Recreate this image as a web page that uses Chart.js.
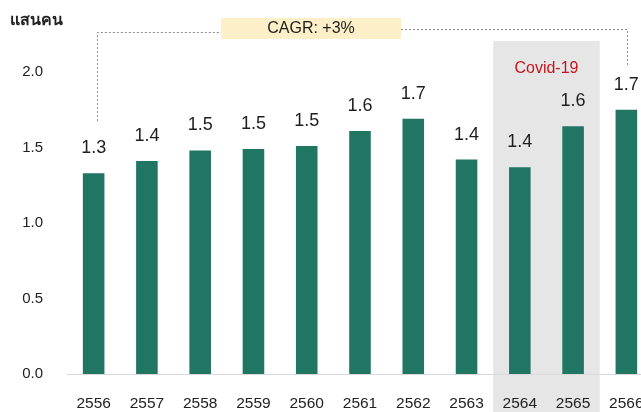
<!DOCTYPE html>
<html>
<head>
<meta charset="utf-8">
<script src="https://cdn.jsdelivr.net/npm/chart.js@4.4.1/dist/chart.umd.min.js"></script>
<style>
  html, body { margin:0; padding:0; background:#fff; overflow:hidden; }
  canvas { display:block; }
</style>
</head>
<body>
<canvas id="chart-visitors" width="641" height="412"></canvas>
<script>
// ข้อมูล (แสนคน)
const years  = ['2556','2557','2558','2559','2560','2561','2562','2563','2564','2565','2566'];
const values = [1.33, 1.41, 1.48, 1.49, 1.51, 1.61, 1.69, 1.42, 1.37, 1.64, 1.75];
const valueLabels = ['1.3','1.4','1.5','1.5','1.5','1.6','1.7','1.4','1.4','1.6','1.7'];
const yTicks = [0, 0.5, 1.0, 1.5, 2.0];
const covidYears = ['2564','2565'];
const unitLabel = 'แสนคน';
const cagrText = 'CAGR: +3%';
const covidText = 'Covid-19';

const FONT = "'Liberation Sans', Arial, Helvetica, sans-serif";
const BAR = '#207563';

// แกน x ยาวเลยขอบขวา แท่งสุดท้ายโดนตัดเหมือนต้นฉบับ
const extendRight = {
  id: 'extendRight',
  afterLayout(chart){
    const x = chart.scales.x;
    x.right = chart.width + 12;
    x.width = x.right - x.left;
    x.configure();
  }
};

// กล่องเทา Covid อยู่ใต้แท่ง
const covidBand = {
  id: 'covidBand',
  beforeDraw(chart){
    const {ctx, scales:{x}} = chart;
    const half = (x.getPixelForValue(1) - x.getPixelForValue(0)) / 2;
    const i0 = years.indexOf(covidYears[0]);
    const i1 = years.indexOf(covidYears[covidYears.length-1]);
    const left = x.getPixelForValue(i0) - half;
    const right = x.getPixelForValue(i1) + half;
    ctx.save();
    ctx.fillStyle = '#e6e6e6';
    ctx.fillRect(left, 41, right - left, chart.height - 41);
    ctx.fillStyle = '#c8141b';
    ctx.font = '16px ' + FONT;
    ctx.textAlign = 'center';
    ctx.textBaseline = 'middle';
    ctx.fillText(covidText, (left + right) / 2, 69);
    ctx.restore();
  }
};

// ตัวเลขบนแท่ง + หัวข้อ + กล่อง CAGR
const overlay = {
  id: 'overlay',
  afterDatasetsDraw(chart){
    const {ctx} = chart;
    const meta = chart.getDatasetMeta(0);
    ctx.save();
    ctx.fillStyle = '#1e1e1e';
    ctx.font = '18px ' + FONT;
    ctx.textAlign = 'center';
    ctx.textBaseline = 'middle';
    meta.data.forEach((bar, i) => {
      ctx.fillText(valueLabels[i], bar.x, bar.y - 25);
    });

    // หน่วย
    ctx.font = 'bold 16px ' + FONT;
    ctx.textAlign = 'left';
    ctx.fillStyle = '#222';
    ctx.fillText(unitLabel, 10, 21);

    // เส้นประ CAGR
    const first = meta.data[0], last = meta.data[meta.data.length-1];
    const boxL = 221, boxR = 401, boxT = 18, boxB = 39;
    ctx.strokeStyle = '#8c8c8c';
    ctx.lineWidth = 1;
    ctx.setLineDash([2, 2]);
    ctx.beginPath();
    ctx.moveTo(Math.round(first.x) + 3.5, first.y - 52);
    ctx.lineTo(Math.round(first.x) + 3.5, 32.5);
    ctx.lineTo(boxL, 32.5);
    ctx.moveTo(boxR, 29.5);
    ctx.lineTo(Math.round(last.x) + 1.5, 29.5);
    ctx.lineTo(Math.round(last.x) + 1.5, last.y - 44);
    ctx.stroke();
    ctx.setLineDash([]);

    ctx.fillStyle = '#fdefc8';
    ctx.fillRect(boxL, boxT, boxR - boxL, boxB - boxT);
    ctx.fillStyle = '#1e1e1e';
    ctx.font = '16px ' + FONT;
    ctx.textAlign = 'center';
    ctx.fillText(cagrText, (boxL + boxR) / 2, 29);
    ctx.restore();
  }
};

new Chart(document.getElementById('chart-visitors'), {
  type: 'bar',
  data: {
    labels: years,
    datasets: [{
      data: values,
      backgroundColor: BAR,
      borderWidth: 0,
      categoryPercentage: 1,
      barPercentage: 0.405
    }]
  },
  options: {
    responsive: false,
    animation: false,
    layout: { padding: { top: 72, left: 0, right: 0, bottom: 0 } },
    plugins: { legend: { display: false }, tooltip: { enabled: false } },
    scales: {
      x: {
        afterFit: s => { s.height = 38; },
        grid: { display: false, drawTicks: false },
        border: { display: true, color: '#d9d9d9', width: 1 },
        ticks: { color: '#222', font: { family: FONT, size: 15.5 }, padding: 20, maxRotation: 0, autoSkip: false }
      },
      y: {
        min: 0, max: 2.0,
        afterBuildTicks: s => { s.ticks = yTicks.map(v => ({ value: v })); },
        afterFit: s => { s.width = 67; },
        grid: { display: false, drawTicks: false },
        border: { display: false },
        ticks: {
          color: '#222', font: { family: FONT, size: 15 }, padding: 24,
          callback: v => Number(v).toFixed(1)
        }
      }
    }
  },
  plugins: [extendRight, covidBand, overlay]
});
</script>
</body>
</html>
